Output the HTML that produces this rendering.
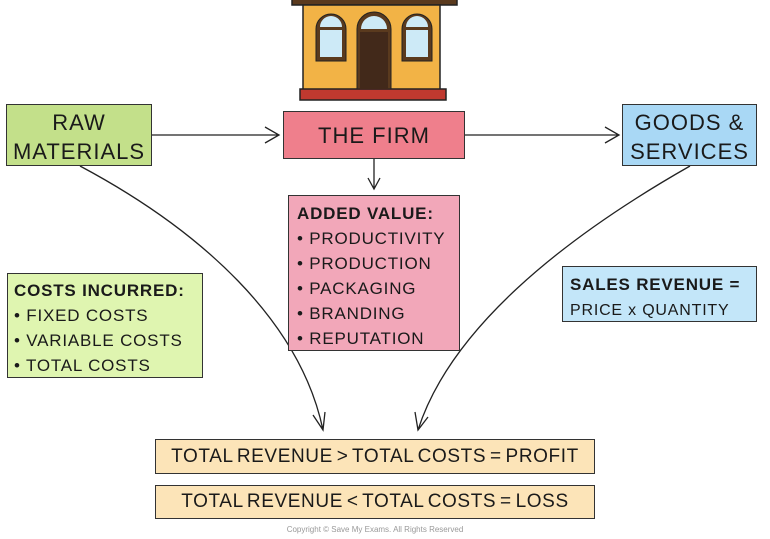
<!DOCTYPE html>
<html><head><meta charset="utf-8"><style>
body{margin:0;width:770px;height:539px;background:#fff;position:relative;overflow:hidden;font-family:"Liberation Sans",sans-serif;color:#1a1a1a}
.b{position:absolute;box-sizing:border-box;border:1.5px solid #333}
.t{position:absolute;white-space:nowrap;letter-spacing:1px}
</style></head><body>
<svg width="770" height="539" style="position:absolute;left:0;top:0">
<rect x="292" y="-2" width="165" height="7" fill="#5a3a1e" stroke="#222" stroke-width="1.5"/>
<rect x="303" y="5" width="137" height="85" fill="#f2b346" stroke="#222" stroke-width="1.5"/>
<rect x="300" y="89" width="146" height="11" fill="#c0392f" stroke="#222" stroke-width="1.5"/>
<g fill="#5a3a1e" stroke="#222" stroke-width="1">
<path d="M316,61 V29 a15,15 0 0 1 30,0 V61 Z"/>
<path d="M402,61 V29 a15,15 0 0 1 30,0 V61 Z"/>
<path d="M357,89 V29 a17,17 0 0 1 34,0 V89 Z"/>
</g>
<rect x="320" y="30" width="22" height="27" fill="#cdeaf7"/>
<rect x="406" y="30" width="22" height="27" fill="#cdeaf7"/>
<rect x="360" y="32" width="28" height="57" fill="#42291a"/>
<path d="M320,27 a11,11 0 0 1 22,0 Z M406,27 a11,11 0 0 1 22,0 Z M361,29 a13,13 0 0 1 26,0 Z" fill="#cdeaf7"/>
<g stroke="#222" stroke-width="1.3" fill="none">
<path d="M152,135 H279 M265,127 L279,135 L265,143"/>
<path d="M465,135 H619 M605,127 L619,135 L605,143"/>
<path d="M374,159 V189 M368,178 L374,189 L380,178"/>
<path d="M80,166 C200,230 300,320 323,430 M313,415 L323,430 L325,412"/>
<path d="M690,166 C560,240 450,330 418,430 M415,412 L418,430 L428,417"/>
</g>
</svg>
<div class="b" style="left:6px;top:104px;width:146px;height:62px;background:#c3e08a"></div>
<div class="t" style="left:6px;top:108px;width:146px;text-align:center;font-size:22px;line-height:29px">RAW<br>MATERIALS</div>
<div class="b" style="left:283px;top:111px;width:182px;height:48px;background:#ef7f8c"></div>
<div class="t" style="left:283px;top:123px;width:182px;text-align:center;font-size:22px">THE FIRM</div>
<div class="b" style="left:622px;top:104px;width:135px;height:62px;background:#a9d8f5"></div>
<div class="t" style="left:622px;top:108px;width:135px;text-align:center;font-size:22px;line-height:29px">GOODS &amp;<br>SERVICES</div>
<div class="b" style="left:288px;top:195px;width:172px;height:156px;background:#f2a7b9"></div>
<div class="t" style="left:297px;top:201px;font-size:17px;line-height:25px;letter-spacing:0.8px"><b>ADDED VALUE:</b><br>• PRODUCTIVITY<br>• PRODUCTION<br>• PACKAGING<br>• BRANDING<br>• REPUTATION</div>
<div class="b" style="left:7px;top:273px;width:196px;height:105px;background:#dff5b0"></div>
<div class="t" style="left:14px;top:278px;font-size:17px;line-height:25px;letter-spacing:0.8px"><b>COSTS INCURRED:</b><br>• FIXED COSTS<br>• VARIABLE COSTS<br>• TOTAL COSTS</div>
<div class="b" style="left:562px;top:266px;width:195px;height:56px;background:#c3e6f9"></div>
<div class="t" style="left:570px;top:272px;font-size:17px;line-height:25px;letter-spacing:0.8px"><b>SALES REVENUE =</b><br><span style="font-size:16px">PRICE x QUANTITY</span></div>
<div class="b" style="left:155px;top:439px;width:440px;height:35px;background:#fce4b8"></div>
<div class="t" style="left:155px;top:446px;width:440px;text-align:center;font-size:19px;letter-spacing:0.6px;word-spacing:-2px">TOTAL REVENUE &gt; TOTAL COSTS = PROFIT</div>
<div class="b" style="left:155px;top:485px;width:440px;height:34px;background:#fce4b8"></div>
<div class="t" style="left:155px;top:491px;width:440px;text-align:center;font-size:19px;letter-spacing:0.6px;word-spacing:-2px">TOTAL REVENUE &lt; TOTAL COSTS = LOSS</div>
<div class="t" style="left:155px;top:525px;width:440px;text-align:center;font-size:8px;color:#999;letter-spacing:0">Copyright © Save My Exams. All Rights Reserved</div>
</body></html>
